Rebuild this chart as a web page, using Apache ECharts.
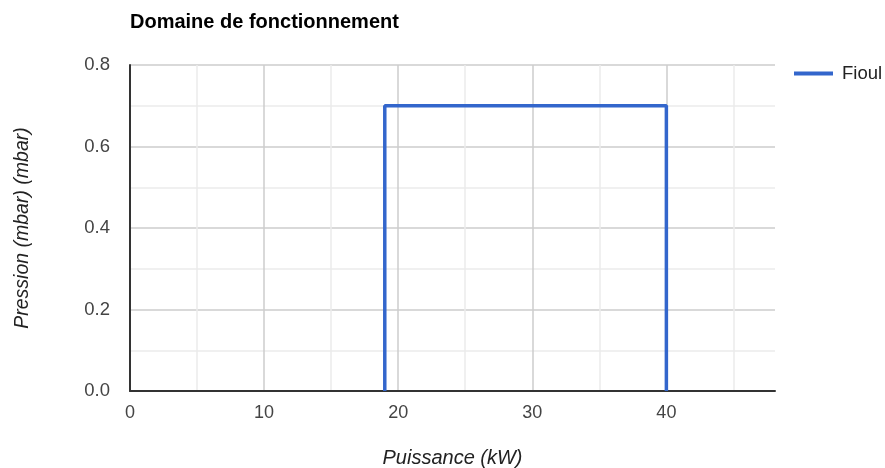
<!DOCTYPE html>
<html>
<head>
<meta charset="utf-8">
<title>Domaine de fonctionnement</title>
<script src="https://cdn.jsdelivr.net/npm/echarts@6/dist/echarts.min.js"></script>
<style>
  html, body { margin: 0; padding: 0; background: #fff; }
  #chart { width: 885px; height: 468px; }
</style>
</head>
<body>
<div id="chart"></div>
<script>
// donnees
var seriesName = 'Fioul';
var puissance = [19, 19, 40, 40];       // kW
var pression = [0, 0.7, 0.7, 0];        // mbar
var xTicks = [0, 10, 20, 30, 40];
var yTicks = [0.0, 0.2, 0.4, 0.6, 0.8];

var points = [];
for (var i = 0; i < puissance.length; i++) {
    points.push([puissance[i], pression[i]]);
}

var font = 'Arial, "Liberation Sans", sans-serif';
var myChart = echarts.init(document.getElementById('chart'), null, { renderer: 'canvas' });

var option = {
    animation: false,
    backgroundColor: '#fff',
    title: {
        text: 'Domaine de fonctionnement',
        left: 130,
        top: 12,
        padding: 0,
        textStyle: { fontFamily: font, fontSize: 20, fontWeight: 'bold', color: '#000' }
    },
    legend: {
        data: [seriesName],
        left: 794,
        top: 64,
        padding: 0,
        icon: 'rect',
        itemWidth: 39,
        itemHeight: 4,
        itemGap: 8,
        textStyle: { fontFamily: font, fontSize: 18.5, color: '#222', padding: [0, 0, 0, 4] }
    },
    grid: {
        left: 130,
        right: 110,
        top: 65,
        bottom: 77,
        containLabel: false,
        outerBoundsMode: 'none'
    },
    xAxis: {
        type: 'value',
        min: 0,
        max: 48.1,
        interval: 5,
        name: 'Puissance (kW)',
        nameLocation: 'middle',
        nameGap: 57,
        nameTextStyle: { fontFamily: font, fontSize: 20, fontStyle: 'italic', color: '#222' },
        axisLine: { show: true, onZero: false, lineStyle: { color: '#333', width: 2 } },
        axisTick: { show: false },
        axisLabel: {
            fontFamily: font, fontSize: 18, color: '#444', margin: 13,
            showMaxLabel: false,
            formatter: function (v) {
                return xTicks.indexOf(v) >= 0 ? String(v) : '';
            }
        },
        splitLine: {
            show: true,
            showMaxLine: false,
            lineStyle: { color: ['#cccccc', '#ebebeb'], width: 1.5 }
        }
    },
    yAxis: {
        type: 'value',
        min: 0,
        max: 0.8,
        interval: 0.1,
        name: 'Pression (mbar) (mbar)',
        nameLocation: 'middle',
        nameGap: 97,
        nameRotate: 90,
        nameTextStyle: { fontFamily: font, fontSize: 19.5, fontStyle: 'italic', color: '#222' },
        axisLine: { show: true, lineStyle: { color: '#333', width: 2 } },
        axisTick: { show: false },
        axisLabel: {
            fontFamily: font, fontSize: 18.5, color: '#444', margin: 20,
            formatter: function (v) {
                for (var k = 0; k < yTicks.length; k++) {
                    if (Math.abs(yTicks[k] - v) < 1e-6) return yTicks[k].toFixed(1);
                }
                return '';
            }
        },
        splitLine: {
            show: true,
            lineStyle: { color: ['#cccccc', '#ebebeb'], width: 1.5 }
        }
    },
    series: [{
        name: seriesName,
        type: 'line',
        data: points,
        showSymbol: false,
        symbol: 'none',
        lineStyle: { color: '#3366cc', width: 3.5 },
        itemStyle: { color: '#3366cc' }
    }]
};

myChart.setOption(option);
</script>
</body>
</html>
